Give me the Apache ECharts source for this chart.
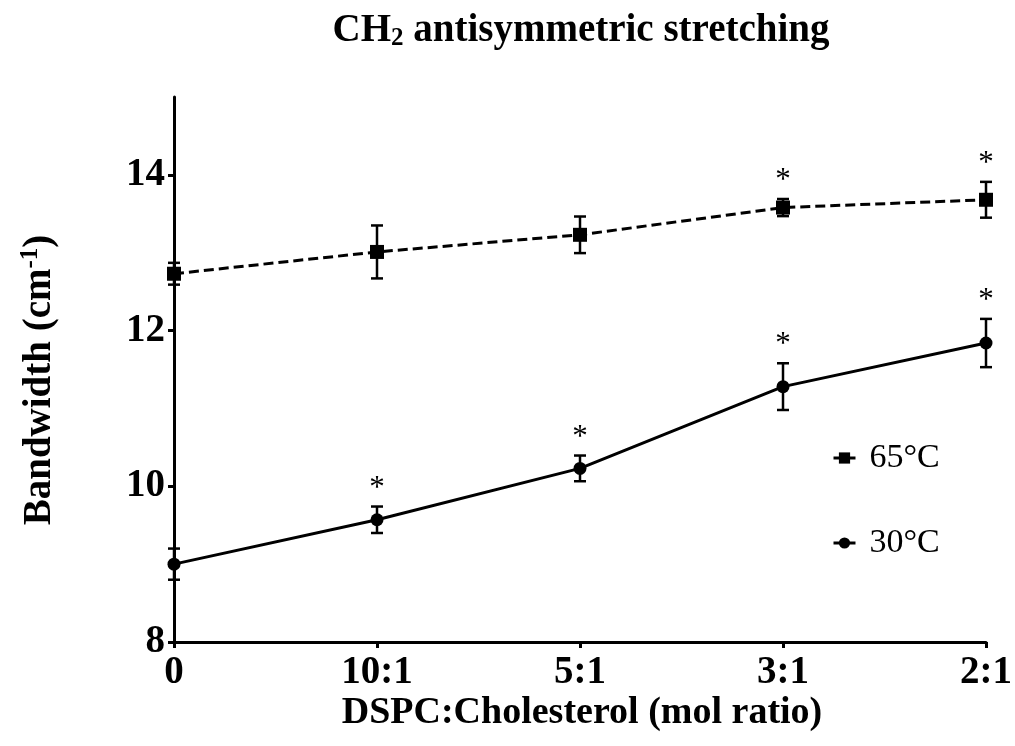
<!DOCTYPE html>
<html><head><meta charset="utf-8">
<script src="https://cdn.jsdelivr.net/npm/echarts@6/dist/echarts.min.js"></script>
<style>html,body{margin:0;padding:0;background:#fff}#c{width:1015px;height:746px}</style>
</head><body><div id="c"></div>
<script>
const categories = ['0', '10:1', '5:1', '3:1', '2:1'];
const hot = [12.73, 13.01, 13.23, 13.58, 13.68];
const hotErr = [0.14, 0.34, 0.235, 0.11, 0.23];
const hotStar = [0, 0, 0, 1, 1];
const cold = [9.0, 9.57, 10.23, 11.28, 11.84];
const coldErr = [0.2, 0.17, 0.165, 0.30, 0.31];
const coldStar = [0, 1, 1, 1, 1];
const yTicks = [8, 10, 12, 14];

const FF = '"Liberation Serif", "Times New Roman", serif';

function errItem(params, api) {
  const i = api.value(0), v = api.value(1), e = api.value(2), s = api.value(3);
  const top = api.coord([i, v + e]), bot = api.coord([i, v - e]);
  const x = top[0], hw = 6;
  const st = { stroke: '#000', lineWidth: 2.5 };
  const ch = [
    { type: 'line', shape: { x1: x, y1: top[1], x2: x, y2: bot[1] }, style: st },
    { type: 'line', shape: { x1: x - hw, y1: top[1], x2: x + hw, y2: top[1] }, style: st },
    { type: 'line', shape: { x1: x - hw, y1: bot[1], x2: x + hw, y2: bot[1] }, style: st }
  ];
  if (s) ch.push({ type: 'text', x: x, y: top[1] - 18,
    style: { text: '*', fill: '#000', font: '31px ' + FF, align: 'center', verticalAlign: 'middle' } });
  return { type: 'group', children: ch };
}

const hotErrData = hot.map((v, i) => [i, v, hotErr[i], hotStar[i]]);
const coldErrData = cold.map((v, i) => [i, v, coldErr[i], coldStar[i]]);

const chart = echarts.init(document.getElementById('c'));
chart.setOption({
  animation: false,
  backgroundColor: '#fff',
  grid: { left: 174, right: 25, top: 97, bottom: 104, containLabel: false },
  xAxis: {
    type: 'category', data: categories, boundaryGap: false,
    axisLine: { lineStyle: { color: '#000', width: 3 } },
    axisTick: { show: true, length: 6, lineStyle: { color: '#000', width: 3 } },
    axisLabel: { color: '#000', fontFamily: FF, fontWeight: 'bold', fontSize: 39, margin: 11 },
    splitLine: { show: false }
  },
  yAxis: {
    type: 'value', min: 8, max: 15, interval: 1,
    axisLine: { show: true, lineStyle: { color: '#000', width: 3 } },
    axisTick: { show: true, length: 6, lineStyle: { color: '#000', width: 3 }, customValues: yTicks },
    axisLabel: { color: '#000', fontFamily: FF, fontWeight: 'bold', fontSize: 39, margin: 9, customValues: yTicks },
    splitLine: { show: false }
  },
  legend: {
    data: ['65°C', '30°C'], orient: 'vertical', left: 832, top: 438, itemGap: 45, padding: 0,
    itemWidth: 22, itemHeight: 14,
    lineStyle: { type: 'solid', width: 3, color: '#000' },
    textStyle: { color: '#000', fontFamily: FF, fontSize: 34, lineHeight: 40, padding: [0, 0, 0, 9] }
  },
  graphic: [
    { type: 'text', x: 581, y: 31, style: {
      text: '{a|CH}{s|2}{a| antisymmetric stretching}', align: 'center', verticalAlign: 'middle',
      rich: { a: { fontFamily: FF, fontWeight: 'bold', fontSize: 39, fill: '#000' },
              s: { fontFamily: FF, fontWeight: 'bold', fontSize: 25, fill: '#000', padding: [16, 0, 0, 0] } } } },
    { type: 'text', x: 582, y: 713, style: {
      text: 'DSPC:Cholesterol (mol ratio)', align: 'center', verticalAlign: 'middle',
      font: 'bold 38px ' + FF, fill: '#000' } },
    { type: 'text', x: 40, y: 380, rotation: Math.PI / 2, style: {
      text: '{a|Bandwidth (cm}{s|-1}{a|)}', align: 'center', verticalAlign: 'middle',
      rich: { a: { fontFamily: FF, fontWeight: 'bold', fontSize: 39, fill: '#000' },
              s: { fontFamily: FF, fontWeight: 'bold', fontSize: 25, fill: '#000', padding: [0, 0, 18, 0] } } } }
  ],
  series: [
    { type: 'custom', name: 'err65', renderItem: errItem, data: hotErrData, encode: { x: 0, y: 1 }, clip: false, z: 2 },
    { type: 'custom', name: 'err30', renderItem: errItem, data: coldErrData, encode: { x: 0, y: 1 }, clip: false, z: 2 },
    { type: 'line', name: '65°C', data: hot, symbol: 'rect', symbolSize: 14, z: 3,
      itemStyle: { color: '#000' }, lineStyle: { color: '#000', width: 3, type: [10, 5] } },
    { type: 'line', name: '30°C', data: cold, symbol: 'circle', symbolSize: 13, z: 3,
      itemStyle: { color: '#000' }, lineStyle: { color: '#000', width: 3 } }
  ]
});
</script></body></html>
